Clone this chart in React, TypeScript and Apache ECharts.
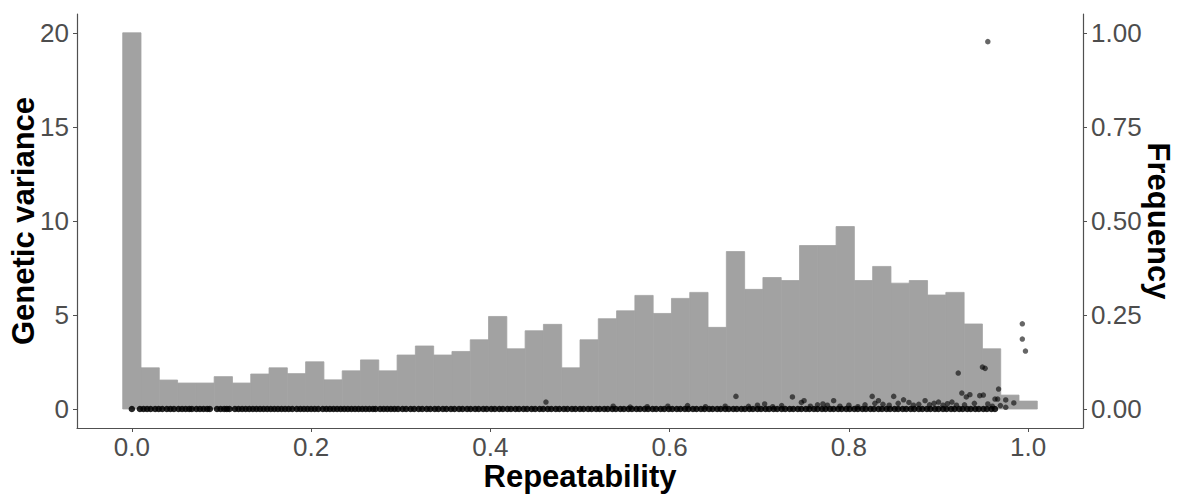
import React, { useEffect, useRef } from "react";
import * as echarts from "echarts";

// Histogram of repeatability: 50 bins of width 1/49 centred on k/49 (values on the left-axis scale)
const BIN_WIDTH = 1 / 49;
const binHeights = [
  20, 2.19, 1.54, 1.38, 1.38, 1.72, 1.38, 1.86, 2.19, 1.88,
  2.51, 1.55, 2.03, 2.61, 2.03, 2.87, 3.35, 2.87, 3.06, 3.68,
  4.92, 3.2, 4.16, 4.5, 2.19, 3.68, 4.8, 5.22, 6.04, 5.08,
  5.88, 6.2, 4.34, 8.37, 6.36, 6.99, 6.83, 8.69, 8.69, 9.7,
  6.83, 7.58, 6.69, 6.83, 6.06, 6.2, 4.52, 3.2, 0.74, 0.42,
];

// Points lying on zero genetic variance (repeatability values)
const zeroVarianceX = [
  0.0, 0.009, 0.013, 0.017, 0.021, 0.026, 0.03, 0.034, 0.039, 0.043, 0.047, 0.052, 0.056, 0.06, 0.064, 0.067,
  0.072, 0.076, 0.08, 0.084, 0.087, 0.095, 0.099, 0.103, 0.106, 0.109,
  0.115, 0.119, 0.123, 0.127, 0.131, 0.135, 0.139, 0.143, 0.147, 0.151, 0.155, 0.159, 0.163, 0.167, 0.171, 0.175, 0.179, 0.184,
  0.188, 0.192, 0.196, 0.2, 0.204, 0.208, 0.213,
  0.217, 0.221, 0.225, 0.229, 0.233, 0.237, 0.241, 0.245, 0.249, 0.253, 0.257, 0.261, 0.265, 0.269, 0.272,
  0.277, 0.281, 0.285, 0.289, 0.293, 0.297,
  0.302, 0.306, 0.311, 0.315, 0.32, 0.324, 0.329, 0.333, 0.338, 0.342, 0.347, 0.351, 0.356, 0.36, 0.365, 0.369,
  0.374, 0.378, 0.383, 0.387, 0.392, 0.396, 0.401, 0.405, 0.41, 0.414, 0.419, 0.423, 0.428, 0.432, 0.437, 0.441,
  0.446, 0.45, 0.455, 0.459, 0.464, 0.468, 0.473, 0.477, 0.482, 0.486, 0.491, 0.495, 0.5, 0.504, 0.509, 0.513,
  0.518, 0.522, 0.527, 0.531, 0.536, 0.54, 0.545, 0.549, 0.554, 0.558, 0.563, 0.567, 0.572, 0.576, 0.581, 0.585,
  0.59, 0.594, 0.599, 0.603, 0.608, 0.612, 0.617, 0.621, 0.626, 0.63, 0.635, 0.639, 0.644, 0.648, 0.653, 0.657,
  0.662, 0.666, 0.671, 0.675, 0.68, 0.684, 0.689, 0.693, 0.698, 0.702, 0.707, 0.711, 0.716, 0.72, 0.725, 0.729,
  0.734, 0.738, 0.743, 0.747, 0.752, 0.756, 0.761, 0.765, 0.77, 0.774, 0.779, 0.783, 0.788, 0.792, 0.797, 0.801,
  0.806, 0.81, 0.815, 0.819, 0.824, 0.828, 0.833, 0.837, 0.842, 0.846, 0.851, 0.855, 0.86, 0.864, 0.869, 0.873,
  0.878, 0.882, 0.887, 0.891, 0.896, 0.9, 0.905, 0.909, 0.914, 0.918, 0.923, 0.927, 0.932, 0.936, 0.941, 0.945,
  0.95, 0.954, 0.959, 0.963,
];

// Points with non-zero genetic variance: [repeatability, genetic variance]
const varianceRepeat = [
  0.462, 0.537, 0.556, 0.575, 0.598, 0.62, 0.64, 0.662, 0.674, 0.688, 0.698, 0.706, 0.715, 0.725, 0.737, 0.747,
  0.75, 0.757, 0.765, 0.771, 0.776, 0.783, 0.79, 0.8, 0.81, 0.818, 0.826, 0.829, 0.833, 0.838, 0.845, 0.85,
  0.855, 0.861, 0.867, 0.872, 0.878, 0.885, 0.89, 0.895, 0.9, 0.905, 0.91, 0.915, 0.92, 0.922, 0.926, 0.929,
  0.931, 0.935, 0.94, 0.946, 0.949, 0.95, 0.952, 0.955, 0.96, 0.963, 0.966, 0.967, 0.969, 0.975, 0.975, 0.984,
  0.955, 0.9935, 0.9935, 0.997,
];
const varianceValue = [
  0.37, 0.15, 0.1, 0.12, 0.15, 0.18, 0.12, 0.15, 0.67, 0.14, 0.2, 0.27, 0.12, 0.18, 0.64, 0.35,
  0.44, 0.15, 0.22, 0.27, 0.2, 0.44, 0.15, 0.2, 0.12, 0.22, 0.67, 0.3, 0.44, 0.25, 0.2, 0.67,
  0.3, 0.49, 0.35, 0.2, 0.25, 0.44, 0.22, 0.3, 0.37, 0.2, 0.28, 0.37, 0.2, 1.91, 0.85, 0.22,
  0.64, 0.76, 0.3, 0.71, 2.23, 0.74, 2.16, 0.27, 0.15, 0.53, 0.53, 1.06, 0.18, 0.48, 0.09, 0.32,
  19.53, 4.53, 3.72, 3.08,
];

const xTicks = [0, 0.2, 0.4, 0.6, 0.8, 1.0];
const leftTicks = [0, 5, 10, 15, 20];
const rightTicks = [0, 0.25, 0.5, 0.75, 1.0];

const FONT = "'Liberation Sans', Arial, sans-serif";
const AXIS_COLOR = "#505050";
const LABEL_COLOR = "#4d4d4d";
const BAR_COLOR = "#a2a2a2";

export default function App() {
  const ref = useRef<HTMLDivElement>(null);

  useEffect(() => {
    if (!ref.current) return;
    const chart = echarts.init(ref.current, null, { renderer: "svg" });

    const histData = binHeights.map((h, k) => [k, h]);
    const zeroData = zeroVarianceX.map((x) => [x, 0]);
    const varData = varianceRepeat.map((x, i) => [x, varianceValue[i]]);

    const axisLineStyle = { show: true, lineStyle: { color: AXIS_COLOR, width: 1.2 } };
    const axisLabelBase = { color: LABEL_COLOR, fontSize: 26, fontFamily: FONT };

    chart.setOption({
      animation: false,
      grid: { left: 77, right: 95, top: 14, bottom: 66, containLabel: false, outerBoundsMode: "none" },
      xAxis: {
        type: "value",
        min: -0.0612,
        max: 1.0612,
        axisLine: { ...axisLineStyle, onZero: false },
        splitLine: { show: false },
        axisTick: { show: true, length: 4, customValues: xTicks, lineStyle: { color: AXIS_COLOR } },
        axisLabel: {
          ...axisLabelBase,
          margin: 6,
          customValues: xTicks,
          formatter: (v: number) => v.toFixed(1),
        },
      },
      yAxis: [
        {
          type: "value",
          position: "left",
          min: -1.01,
          max: 21.0,
          axisLine: { ...axisLineStyle, onZero: false },
          splitLine: { show: false },
          axisTick: { show: true, length: 4, customValues: leftTicks, lineStyle: { color: AXIS_COLOR } },
          axisLabel: { ...axisLabelBase, margin: 8, customValues: leftTicks, formatter: (v: number) => String(v) },
        },
        {
          type: "value",
          position: "right",
          min: -0.0505,
          max: 1.05,
          axisLine: { ...axisLineStyle, onZero: false },
          splitLine: { show: false },
          axisTick: { show: true, length: 4, customValues: rightTicks, lineStyle: { color: AXIS_COLOR } },
          axisLabel: { ...axisLabelBase, margin: 8, customValues: rightTicks, formatter: (v: number) => v.toFixed(2) },
        },
      ],
      series: [
        {
          type: "custom",
          yAxisIndex: 0,
          data: histData,
          renderItem: (params: any, api: any) => {
            const k = api.value(0);
            const h = api.value(1);
            const x0 = (k - 0.5) * BIN_WIDTH;
            const x1 = (k + 0.5) * BIN_WIDTH;
            const p0 = api.coord([x0, h]);
            const p1 = api.coord([x1, 0]);
            return {
              type: "rect",
              shape: { x: p0[0], y: p0[1], width: p1[0] - p0[0], height: p1[1] - p0[1] },
              style: { fill: BAR_COLOR, stroke: BAR_COLOR, lineWidth: 0.8 },
            };
          },
          z: 1,
        },
        {
          type: "scatter",
          yAxisIndex: 0,
          data: zeroData,
          symbolSize: 6.5,
          itemStyle: { color: "rgba(0,0,0,0.85)", opacity: 1 },
          z: 2,
        },
        {
          type: "scatter",
          yAxisIndex: 0,
          data: varData,
          symbolSize: 5.5,
          itemStyle: { color: "rgba(0,0,0,0.6)", opacity: 1 },
          z: 3,
        },
      ],
      graphic: [
        {
          type: "text",
          x: 580,
          y: 476,
          style: {
            text: "Repeatability",
            font: `bold 31px ${FONT}`,
            fill: "#000",
            align: "center",
            verticalAlign: "middle",
          },
        },
        {
          type: "text",
          x: 23,
          y: 221,
          rotation: Math.PI / 2,
          style: {
            text: "Genetic variance",
            font: `bold 31px ${FONT}`,
            fill: "#000",
            align: "center",
            verticalAlign: "middle",
          },
        },
        {
          type: "text",
          x: 1158,
          y: 221,
          rotation: -Math.PI / 2,
          style: {
            text: "Frequency",
            font: `bold 31px ${FONT}`,
            fill: "#000",
            align: "center",
            verticalAlign: "middle",
          },
        },
      ],
    });

    return () => chart.dispose();
  }, []);

  return (
    <div
      ref={ref}
      style={{ position: "fixed", left: 0, top: 0, width: 1178, height: 494, background: "#fff" }}
    />
  );
}
